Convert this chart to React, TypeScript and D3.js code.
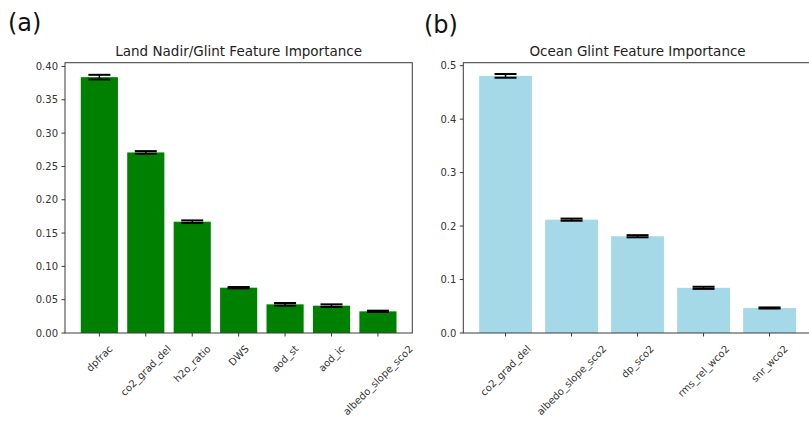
import React from "react";
import * as d3 from "d3";

const landFeatures = ["dpfrac", "co2_grad_del", "h2o_ratio", "DWS", "aod_st", "aod_ic", "albedo_slope_sco2"];
const landValues = [0.384, 0.271, 0.167, 0.068, 0.043, 0.041, 0.0325];
const landErrors = [0.0035, 0.002, 0.002, 0.001, 0.002, 0.002, 0.001];
const landTicks = [0.0, 0.05, 0.1, 0.15, 0.2, 0.25, 0.3, 0.35, 0.4];

const oceanFeatures = ["co2_grad_del", "albedo_slope_sco2", "dp_sco2", "rms_rel_wco2", "snr_wco2"];
const oceanValues = [0.481, 0.212, 0.181, 0.0845, 0.0468];
const oceanErrors = [0.0035, 0.002, 0.002, 0.002, 0.001];
const oceanTicks = [0.0, 0.1, 0.2, 0.3, 0.4, 0.5];

const FONT = "DejaVu Sans, sans-serif";

let ctx: CanvasRenderingContext2D | null = null;
function textWidth(s: string, size: number): number {
  if (typeof document === "undefined") return s.length * size * 0.6;
  if (!ctx) ctx = document.createElement("canvas").getContext("2d");
  if (!ctx) return s.length * size * 0.6;
  ctx.font = `${size}px "DejaVu Sans"`;
  return ctx.measureText(s).width;
}

type PanelProps = {
  features: string[];
  values: number[];
  errors: number[];
  ticks: number[];
  yMax: number;
  xDomain: [number, number];
  xRange: [number, number];
  color: string;
  title: string;
  fmt: string;
};

function Panel(p: PanelProps) {
  const top = 62.7;
  const bottom = 333;
  const x = d3.scaleLinear().domain(p.xDomain).range(p.xRange);
  const y = d3.scaleLinear().domain([0, p.yMax]).range([bottom, top]);
  const unit = x(1) - x(0);
  const bw = unit * 0.8;
  const [x0, x1] = p.xRange;
  const f = d3.format(p.fmt);
  const labelSize = 10;
  const fh = labelSize * 1.164;
  const axisColor = "#3a3a3a";
  const textColor = "#333";
  return (
    <g>
      {p.values.map((v, i) => (
        <rect key={"b" + i} x={x(i) - bw / 2} y={y(v)} width={bw} height={bottom - y(v)} fill={p.color} />
      ))}
      {p.values.map((v, i) => {
        const cx = x(i);
        const lo = y(v - p.errors[i]);
        const hi = y(v + p.errors[i]);
        return (
          <g key={"e" + i} stroke="#000">
            <line x1={cx} x2={cx} y1={lo} y2={hi} strokeWidth={1.5} />
            <line x1={cx - 11} x2={cx + 11} y1={lo} y2={lo} strokeWidth={2} />
            <line x1={cx - 11} x2={cx + 11} y1={hi} y2={hi} strokeWidth={2} />
          </g>
        );
      })}
      <rect x={x0} y={top} width={x1 - x0} height={bottom - top} fill="none" stroke={axisColor} strokeWidth={1} />
      {p.ticks.map((t) => (
        <g key={"yt" + t}>
          <line x1={x0 - 3.5} x2={x0} y1={y(t)} y2={y(t)} stroke={axisColor} strokeWidth={1} />
          <text x={x0 - 7} y={y(t)} dy="0.35em" textAnchor="end" fontSize={10} fontFamily={FONT} fill={textColor}>
            {f(t)}
          </text>
        </g>
      ))}
      {p.features.map((name, i) => {
        const cx = x(i);
        const w = textWidth(name, labelSize);
        const side = (w + fh) * Math.SQRT1_2;
        const cy = bottom + 10 + side / 2;
        return (
          <g key={"xt" + i}>
            <line x1={cx} x2={cx} y1={bottom} y2={bottom + 3.5} stroke={axisColor} strokeWidth={1} />
            <text
              x={cx}
              y={cy}
              textAnchor="middle"
              dominantBaseline="central"
              transform={`rotate(-45 ${cx} ${cy})`}
              fontSize={labelSize}
              fontFamily={FONT}
              fill={textColor}
            >
              {name}
            </text>
          </g>
        );
      })}
      <text x={(x0 + x1) / 2} y={56} textAnchor="middle" fontSize={13.5} fontFamily={FONT} fill="#222">
        {p.title}
      </text>
    </g>
  );
}

export default function App() {
  return (
    <svg width={809} height={421} style={{ position: "absolute", left: 0, top: 0, background: "#fff" }}>
      <rect x={0} y={0} width={809} height={421} fill="#fff" />
      <text x={8} y={31} fontSize={24} fontFamily={FONT} fill="#111">(a)</text>
      <text x={424} y={33} fontSize={24} fontFamily={FONT} fill="#111">(b)</text>
      <Panel
        features={landFeatures}
        values={landValues}
        errors={landErrors}
        ticks={landTicks}
        yMax={0.4057}
        xDomain={[-0.74, 6.74]}
        xRange={[65, 412.3]}
        color="#008000"
        title="Land Nadir/Glint Feature Importance"
        fmt=".2f"
      />
      <Panel
        features={oceanFeatures}
        values={oceanValues}
        errors={oceanErrors}
        ticks={oceanTicks}
        yMax={0.5056}
        xDomain={[-0.64, 4.64]}
        xRange={[463.3, 811.8]}
        color="#a5d9e8"
        title="Ocean Glint Feature Importance"
        fmt=".1f"
      />
    </svg>
  );
}
